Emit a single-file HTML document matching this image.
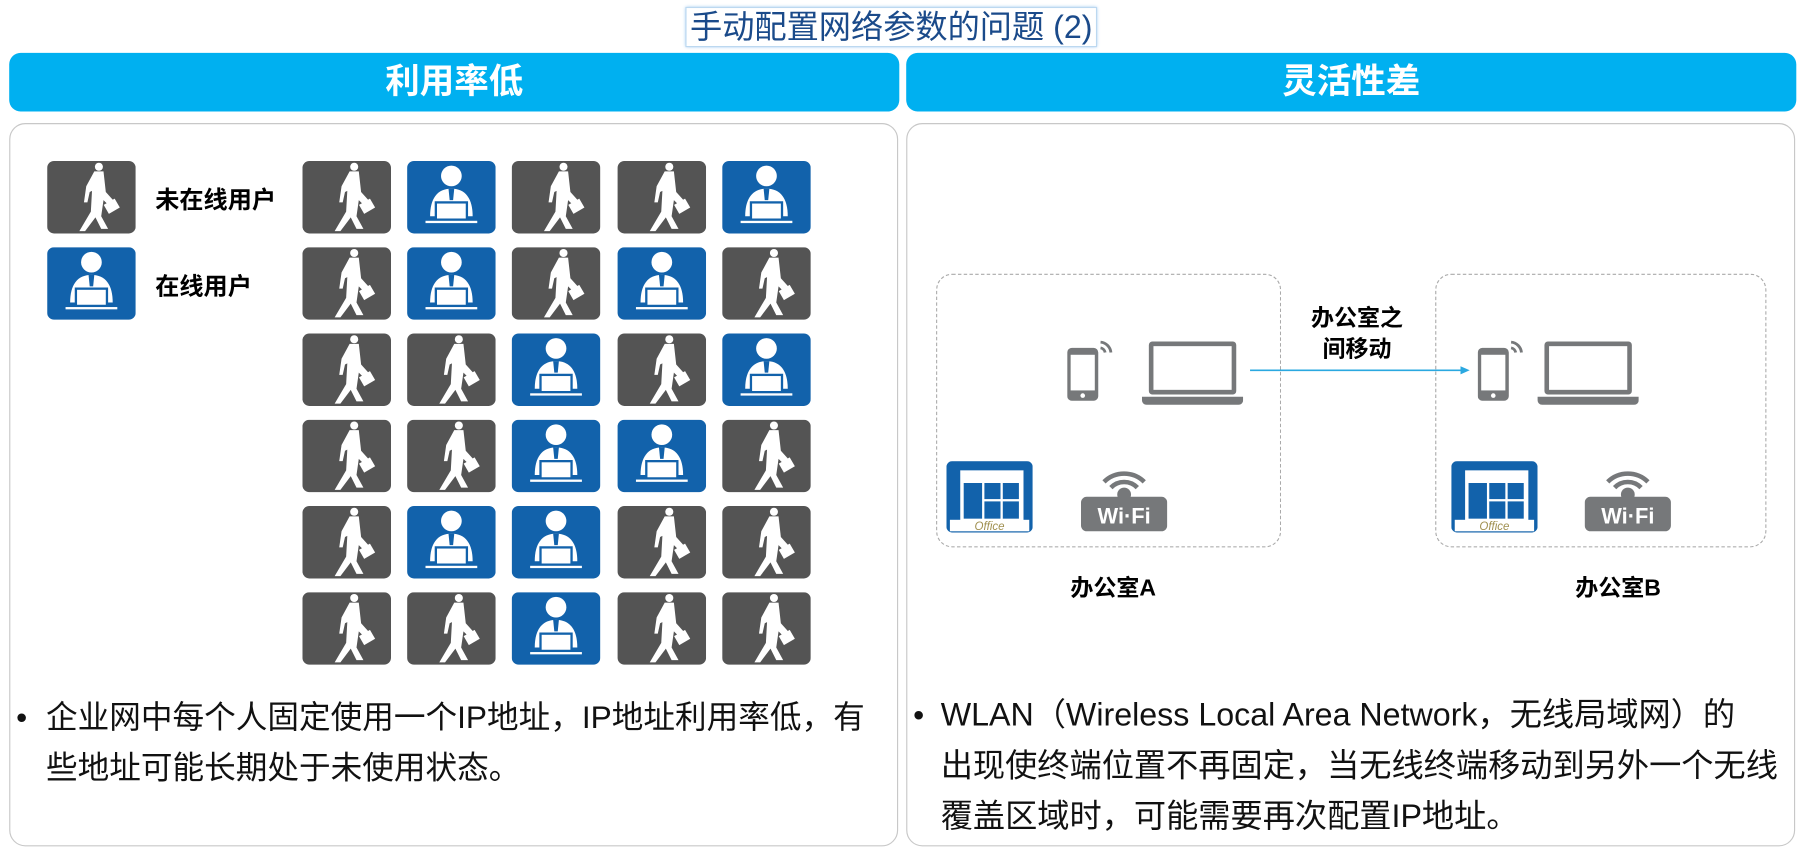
<!DOCTYPE html>
<html><head><meta charset="utf-8"><style>
body{margin:0;width:1803px;height:850px;background:#fff;position:relative;overflow:hidden;font-family:"Liberation Sans","Noto Sans CJK SC",sans-serif}
#wrap{position:absolute;left:0;top:0;width:1568px;height:740px;transform:scale(1.15);transform-origin:0 0}
.a{position:absolute}
.hd{background:#00b0f0;border-radius:10px;color:#fff;font-weight:bold;font-size:30px;text-align:center;line-height:51px}
.bd{border:1.5px solid #c8c8c8;border-radius:14px}
.t{font-size:27.5px;color:#111;line-height:44px;white-space:nowrap}
.lb{font-weight:bold;font-size:21px;color:#000}
.dash{border:1.5px dashed #aaa;border-radius:14px}
</style></head><body><div id="wrap">
<svg width="0" height="0" style="position:absolute"><defs>
<symbol id="W" viewBox="0 0 77 63"><rect width="77" height="63" rx="6" fill="#545454"/>
<circle cx="45" cy="5" r="3.5" fill="#fff"/><path d="M41 9h8l2 18 9 10-4 4-7-7-2 14 6 11h-6l-5-10-9 12h-5l10-17 1-18-2 1-2 9h-3l2-14z" fill="#fff"/><rect x="51" y="35" width="11" height="9" fill="#fff" transform="rotate(-30 56 40)"/></symbol>
<symbol id="P" viewBox="0 0 77 63"><rect width="77" height="63" rx="6" fill="#1262ab"/>
<circle cx="38.5" cy="13" r="9" fill="#fff"/><path d="M20 48c0-15 6-24 18.5-24S57 33 57 48z" fill="#fff"/><path d="M36 24h5l-1 10h-3z" fill="#1262ab"/><rect x="24" y="35" width="29" height="16" fill="#1262ab"/><rect x="26" y="37" width="25" height="13" fill="#fff"/><rect x="16" y="52" width="45" height="2" fill="#fff"/></symbol>
<symbol id="PH" viewBox="0 0 40 55"><rect x="0" y="8" width="27" height="46" rx="4" fill="#76787a"/><rect x="3" y="14" width="21" height="31" fill="#fff"/><circle cx="13.5" cy="49.5" r="2" fill="#fff"/><path d="M29 3a10 10 0 0 1 9 9M29 8a5 5 0 0 1 4 4" stroke="#76787a" stroke-width="2.5" fill="none"/></symbol>
<symbol id="LP" viewBox="0 0 88 56"><rect x="6" y="0" width="76" height="46" rx="3" fill="#76787a"/><rect x="10" y="4" width="68" height="38" fill="#fff"/><path d="M0 48h88v3a4 4 0 0 1-4 4H4a4 4 0 0 1-4-4z" fill="#76787a"/></symbol>
<symbol id="OF" viewBox="0 0 75 62"><rect width="75" height="62" rx="5" fill="#1262ab"/><rect x="12" y="8" width="55" height="44" fill="#fff"/><rect x="15" y="19" width="16" height="31" fill="#1262ab"/><rect x="33" y="19" width="14" height="14" fill="#1262ab"/><rect x="49" y="19" width="14" height="14" fill="#1262ab"/><rect x="33" y="35" width="14" height="15" fill="#1262ab"/><rect x="49" y="35" width="14" height="15" fill="#1262ab"/><rect x="3" y="51" width="69" height="10" fill="#fff"/><text x="37.5" y="60" font-size="10" font-style="italic" fill="#a09050" text-anchor="middle" font-family="Liberation Sans">Office</text></symbol>
<symbol id="WF" viewBox="0 0 75 58"><path d="M20 14a25 25 0 0 1 35 0M26 19a16 16 0 0 1 23 0" stroke="#76787a" stroke-width="4" fill="none"/><circle cx="37.5" cy="25" r="6" fill="#76787a"/><rect x="0" y="27" width="75" height="30" rx="5" fill="#76787a"/><text x="37.5" y="50" font-size="19" font-weight="bold" fill="#fff" text-anchor="middle" font-family="Liberation Sans">Wi·Fi</text></symbol>
</defs></svg>

<div class="a" style="left:596px;top:6px;height:33px;border:1px solid #bcd8f0;box-shadow:0 0 3px #9cc8f0;font-size:28px;line-height:33px;color:#1a4a8a;padding:0 3px;white-space:nowrap">手动配置网络参数的问题 (2)</div>

<div class="a hd" style="left:8px;top:46px;width:774px;height:51px">利用率低</div>
<div class="a hd" style="left:788px;top:46px;width:774px;height:51px">灵活性差</div>
<div class="a bd" style="left:8px;top:107px;width:771px;height:627px"></div>
<div class="a bd" style="left:788px;top:107px;width:771px;height:627px"></div>

<svg class="a" style="left:0;top:0" width="780" height="600">
<use href="#W" x="41" y="140" width="77" height="63"/>
<use href="#P" x="41" y="215" width="77" height="63"/>
<use href="#W" x="263" y="140" width="77" height="63"/><use href="#P" x="354" y="140" width="77" height="63"/><use href="#W" x="445" y="140" width="77" height="63"/><use href="#W" x="537" y="140" width="77" height="63"/><use href="#P" x="628" y="140" width="77" height="63"/>
<use href="#W" x="263" y="215" width="77" height="63"/><use href="#P" x="354" y="215" width="77" height="63"/><use href="#W" x="445" y="215" width="77" height="63"/><use href="#P" x="537" y="215" width="77" height="63"/><use href="#W" x="628" y="215" width="77" height="63"/>
<use href="#W" x="263" y="290" width="77" height="63"/><use href="#W" x="354" y="290" width="77" height="63"/><use href="#P" x="445" y="290" width="77" height="63"/><use href="#W" x="537" y="290" width="77" height="63"/><use href="#P" x="628" y="290" width="77" height="63"/>
<use href="#W" x="263" y="365" width="77" height="63"/><use href="#W" x="354" y="365" width="77" height="63"/><use href="#P" x="445" y="365" width="77" height="63"/><use href="#P" x="537" y="365" width="77" height="63"/><use href="#W" x="628" y="365" width="77" height="63"/>
<use href="#W" x="263" y="440" width="77" height="63"/><use href="#P" x="354" y="440" width="77" height="63"/><use href="#P" x="445" y="440" width="77" height="63"/><use href="#W" x="537" y="440" width="77" height="63"/><use href="#W" x="628" y="440" width="77" height="63"/>
<use href="#W" x="263" y="515" width="77" height="63"/><use href="#W" x="354" y="515" width="77" height="63"/><use href="#P" x="445" y="515" width="77" height="63"/><use href="#W" x="537" y="515" width="77" height="63"/><use href="#W" x="628" y="515" width="77" height="63"/>
</svg>
<div class="a lb" style="left:135px;top:158px">未在线用户</div>
<div class="a lb" style="left:135px;top:233px">在线用户</div>

<div class="a t" style="left:14px;top:602px">•</div>
<div class="a t" style="left:40px;top:602px">企业网中每个人固定使用一个IP地址，IP地址利用率低，有<br>些地址可能长期处于未使用状态。</div>

<div class="a dash" style="left:814px;top:238px;width:298px;height:236px"></div>
<div class="a dash" style="left:1248px;top:238px;width:286px;height:236px"></div>
<svg class="a" style="left:800px;top:230px" width="760" height="250">
<use href="#PH" x="128" y="62" width="40" height="60"/>
<use href="#LP" x="193" y="67" width="88" height="56"/>
<use href="#OF" x="23" y="171" width="75" height="62"/>
<use href="#WF" x="140" y="175" width="75" height="58"/>
<use href="#PH" x="485" y="62" width="40" height="60"/>
<use href="#LP" x="537" y="67" width="88" height="56"/>
<use href="#OF" x="462" y="171" width="75" height="62"/>
<use href="#WF" x="578" y="175" width="75" height="58"/>
<line x1="287" y1="92" x2="472" y2="92" stroke="#2aa8e0" stroke-width="1.5"/>
<path d="M478 92l-8-3.5v7z" fill="#2aa8e0"/>
</svg>
<div class="a lb" style="left:1125px;top:264px;width:110px;text-align:center;line-height:27px;font-size:20px">办公室之<br>间移动</div>
<div class="a lb" style="left:913px;top:495px;width:110px;text-align:center;font-size:20px">办公室A</div>
<div class="a lb" style="left:1352px;top:495px;width:110px;text-align:center;font-size:20px">办公室B</div>

<div class="a t" style="left:794px;top:600px">•</div>
<div class="a t" style="left:818px;top:600px;font-size:28px">WLAN（Wireless Local Area Network，无线局域网）的<br>出现使终端位置不再固定，当无线终端移动到另外一个无线<br>覆盖区域时，可能需要再次配置IP地址。</div>
</div></body></html>
